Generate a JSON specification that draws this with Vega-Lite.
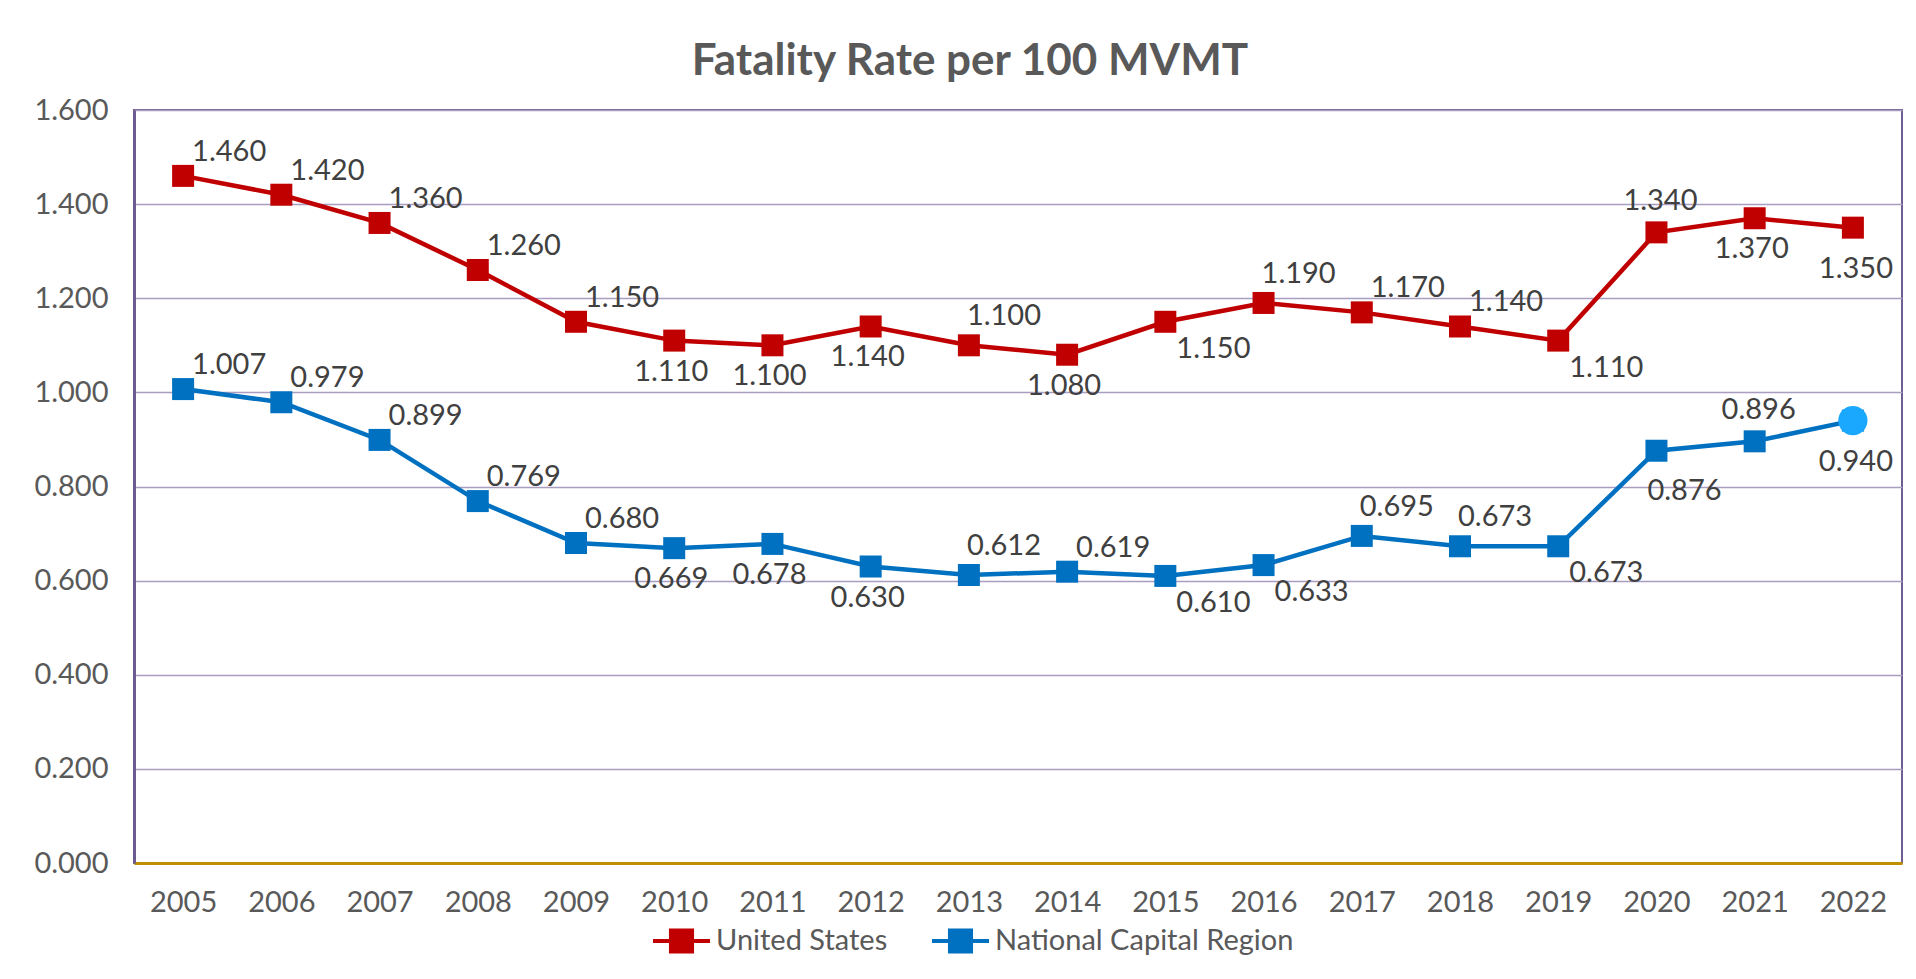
{
  "$schema": "https://vega.github.io/schema/vega-lite/v6.json",
  "width": 1768,
  "height": 753,
  "autosize": {"type": "none"},
  "padding": {"left": 134, "top": 110, "right": 14, "bottom": 116},
  "background": "white",
  "title": {
    "text": "Fatality Rate per 100 MVMT",
    "font": "Lato",
    "fontSize": 44,
    "fontWeight": "bold",
    "color": "#595959",
    "anchor": "middle",
    "dx": -48,
    "offset": 12
  },
  "data": {
    "values": [
      {"year": 2005, "series": "United States", "value": 1.46},
      {"year": 2006, "series": "United States", "value": 1.42},
      {"year": 2007, "series": "United States", "value": 1.36},
      {"year": 2008, "series": "United States", "value": 1.26},
      {"year": 2009, "series": "United States", "value": 1.15},
      {"year": 2010, "series": "United States", "value": 1.11},
      {"year": 2011, "series": "United States", "value": 1.10},
      {"year": 2012, "series": "United States", "value": 1.14},
      {"year": 2013, "series": "United States", "value": 1.10},
      {"year": 2014, "series": "United States", "value": 1.08},
      {"year": 2015, "series": "United States", "value": 1.15},
      {"year": 2016, "series": "United States", "value": 1.19},
      {"year": 2017, "series": "United States", "value": 1.17},
      {"year": 2018, "series": "United States", "value": 1.14},
      {"year": 2019, "series": "United States", "value": 1.11},
      {"year": 2020, "series": "United States", "value": 1.34},
      {"year": 2021, "series": "United States", "value": 1.37},
      {"year": 2022, "series": "United States", "value": 1.35},
      {"year": 2005, "series": "National Capital Region", "value": 1.007},
      {"year": 2006, "series": "National Capital Region", "value": 0.979},
      {"year": 2007, "series": "National Capital Region", "value": 0.899},
      {"year": 2008, "series": "National Capital Region", "value": 0.769},
      {"year": 2009, "series": "National Capital Region", "value": 0.680},
      {"year": 2010, "series": "National Capital Region", "value": 0.669},
      {"year": 2011, "series": "National Capital Region", "value": 0.678},
      {"year": 2012, "series": "National Capital Region", "value": 0.630},
      {"year": 2013, "series": "National Capital Region", "value": 0.612},
      {"year": 2014, "series": "National Capital Region", "value": 0.619},
      {"year": 2015, "series": "National Capital Region", "value": 0.610},
      {"year": 2016, "series": "National Capital Region", "value": 0.633},
      {"year": 2017, "series": "National Capital Region", "value": 0.695},
      {"year": 2018, "series": "National Capital Region", "value": 0.673},
      {"year": 2019, "series": "National Capital Region", "value": 0.673},
      {"year": 2020, "series": "National Capital Region", "value": 0.876},
      {"year": 2021, "series": "National Capital Region", "value": 0.896},
      {"year": 2022, "series": "National Capital Region", "value": 0.940}
    ]
  },
  "encoding": {
    "x": {
      "field": "year",
      "type": "ordinal",
      "scale": {"type": "point", "padding": 0.5},
      "axis": {
        "title": null,
        "labelAngle": 0,
        "labelFont": "Lato",
        "labelFontSize": 29,
        "labelColor": "#595959",
        "labelPadding": 25,
        "ticks": false,
        "domainColor": "#BF9000",
        "domainWidth": 3,
        "grid": false
      }
    },
    "y": {
      "field": "value",
      "type": "quantitative",
      "scale": {"domain": [0, 1.6], "nice": false, "zero": true},
      "axis": {
        "title": null,
        "values": [0, 0.2, 0.4, 0.6, 0.8, 1.0, 1.2, 1.4, 1.6],
        "format": ".3f",
        "labelFont": "Lato",
        "labelFontSize": 29,
        "labelColor": "#595959",
        "labelPadding": 26,
        "ticks": false,
        "domainColor": "#6B5B8E",
        "domainWidth": 3,
        "grid": true,
        "gridColor": "#A99DC2",
        "gridWidth": 1.5
      }
    }
  },
  "layer": [
    {
      "mark": {"type": "line", "strokeWidth": 4.5},
      "encoding": {
        "color": {
          "field": "series",
          "type": "nominal",
          "scale": {"domain": ["United States", "National Capital Region"], "range": ["#C00000", "#0070C0"]},
          "legend": {
            "title": null,
            "orient": "none",
            "legendX": 517,
            "legendY": 800,
            "direction": "horizontal",
            "padding": 0,
            "labelFont": "Lato",
            "labelFontSize": 29,
            "labelColor": "#595959",
            "labelLimit": 0,
            "labelOffset": 4,
            "columnPadding": 36,
            "symbolSize": 3249,
            "symbolType": "M-1,0H1M-0.37,-0.37H0.37V0.37H-0.37Z",
            "symbolStrokeWidth": 4,
            "encode": {
              "symbols": {
                "update": {
                  "fill": {"scale": "color", "field": "value"},
                  "stroke": {"scale": "color", "field": "value"},
                  "strokeWidth": {"value": 4},
                  "opacity": {"value": 1}
                }
              }
            }
          }
        }
      }
    },
    {
      "mark": {"type": "point", "shape": "square", "filled": true, "size": 484, "opacity": 1},
      "encoding": {
        "color": {"field": "series", "type": "nominal"}
      }
    },
    {
      "transform": [{"filter": {"and": [{"field": "series", "equal": "National Capital Region"}, {"field": "year", "equal": 2022}]}}],
      "mark": {"type": "circle", "size": 855, "opacity": 1, "color": "#1AA8FF"},
      "encoding": {}
    },
    {
      "transform": [{"filter": {"or": [
        {"and": [{"field": "series", "equal": "United States"}, {"field": "year", "oneOf": [2005, 2006, 2007, 2008, 2009, 2017, 2018]}]},
        {"and": [{"field": "series", "equal": "National Capital Region"}, {"field": "year", "oneOf": [2005, 2006, 2007, 2008, 2009, 2014]}]}
      ]}}],
      "mark": {"type": "text", "align": "left", "baseline": "middle", "dx": 9, "dy": -24, "font": "Lato", "fontSize": 29, "color": "#404040"},
      "encoding": {"text": {"field": "value", "type": "quantitative", "format": ".3f"}}
    },
    {
      "transform": [{"filter": {"or": [
        {"and": [{"field": "series", "equal": "United States"}, {"field": "year", "oneOf": [2013, 2016]}]},
        {"and": [{"field": "series", "equal": "National Capital Region"}, {"field": "year", "oneOf": [2013, 2017, 2018]}]}
      ]}}],
      "mark": {"type": "text", "align": "left", "baseline": "middle", "dx": -2, "dy": -29, "font": "Lato", "fontSize": 29, "color": "#404040"},
      "encoding": {"text": {"field": "value", "type": "quantitative", "format": ".3f"}}
    },
    {
      "transform": [{"filter": {"or": [
        {"and": [{"field": "series", "equal": "United States"}, {"field": "year", "oneOf": [2020]}]},
        {"and": [{"field": "series", "equal": "National Capital Region"}, {"field": "year", "oneOf": [2021]}]}
      ]}}],
      "mark": {"type": "text", "align": "center", "baseline": "middle", "dx": 4, "dy": -31, "font": "Lato", "fontSize": 29, "color": "#404040"},
      "encoding": {"text": {"field": "value", "type": "quantitative", "format": ".3f"}}
    },
    {
      "transform": [{"filter": {"or": [
        {"and": [{"field": "series", "equal": "United States"}, {"field": "year", "oneOf": [2010, 2011, 2012, 2014, 2021]}]},
        {"and": [{"field": "series", "equal": "National Capital Region"}, {"field": "year", "oneOf": [2010, 2011, 2012]}]}
      ]}}],
      "mark": {"type": "text", "align": "center", "baseline": "middle", "dx": -3, "dy": 31, "font": "Lato", "fontSize": 29, "color": "#404040"},
      "encoding": {"text": {"field": "value", "type": "quantitative", "format": ".3f"}}
    },
    {
      "transform": [{"filter": {"and": [{"field": "year", "equal": 2022}]}}],
      "mark": {"type": "text", "align": "center", "baseline": "middle", "dx": 3, "dy": 41, "font": "Lato", "fontSize": 29, "color": "#404040"},
      "encoding": {"text": {"field": "value", "type": "quantitative", "format": ".3f"}}
    },
    {
      "transform": [{"filter": {"or": [
        {"and": [{"field": "series", "equal": "United States"}, {"field": "year", "oneOf": [2015, 2019]}]},
        {"and": [{"field": "series", "equal": "National Capital Region"}, {"field": "year", "oneOf": [2015, 2016, 2019]}]}
      ]}}],
      "mark": {"type": "text", "align": "left", "baseline": "middle", "dx": 11, "dy": 27, "font": "Lato", "fontSize": 29, "color": "#404040"},
      "encoding": {"text": {"field": "value", "type": "quantitative", "format": ".3f"}}
    },
    {
      "transform": [{"filter": {"and": [{"field": "series", "equal": "National Capital Region"}, {"field": "year", "equal": 2020}]}}],
      "mark": {"type": "text", "align": "left", "baseline": "middle", "dx": -9, "dy": 40, "font": "Lato", "fontSize": 29, "color": "#404040"},
      "encoding": {"text": {"field": "value", "type": "quantitative", "format": ".3f"}}
    }
  ],
  "config": {
    "view": {"stroke": "#6E5E91", "strokeWidth": 2},
    "font": "Lato"
  }
}
